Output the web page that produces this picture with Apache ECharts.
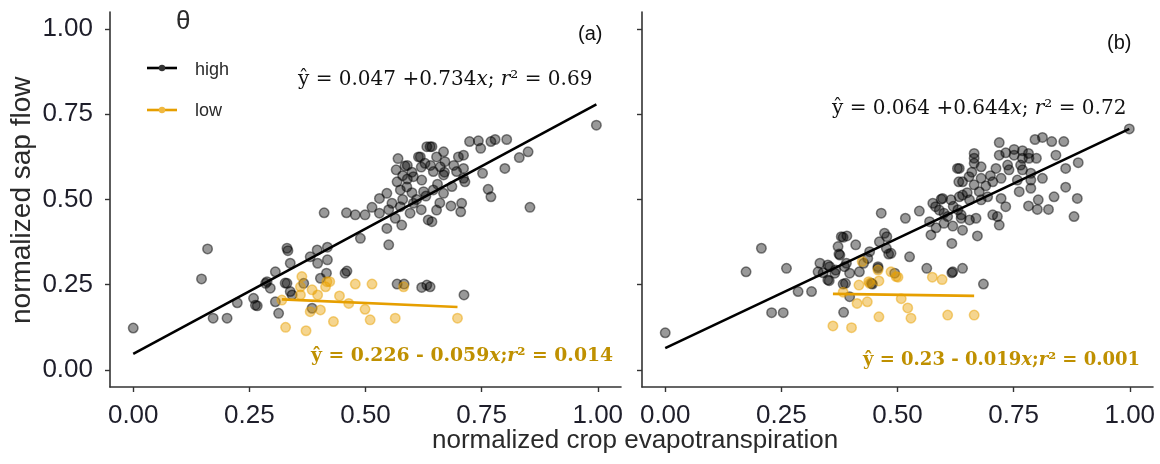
<!DOCTYPE html>
<html><head><meta charset="utf-8">
<script src="https://cdn.jsdelivr.net/npm/echarts@6/dist/echarts.min.js"></script>
<style>html,body{margin:0;padding:0;background:#fff}#c{width:1160px;height:464px}</style>
</head><body><div id="c"></div>
<script>
// ---------- data ----------
const tickValues = [0, 0.25, 0.5, 0.75, 1];
const xTitle = 'normalized crop evapotranspiration';
const yTitle = 'normalized sap flow';
const legendTitle = 'θ';
const groupNames = ['high', 'low'];
const panelLabels = ['(a)', '(b)'];

// panel (a)
const aHigh = [[0.00,0.123],[0.147,0.267],[0.16,0.355],[0.172,0.152],[0.202,0.152],[0.224,0.197],[0.259,0.21],[0.263,0.19],[0.267,0.188],[0.285,0.254],[0.288,0.259],[0.295,0.24],[0.306,0.288],[0.306,0.2],[0.313,0.166],[0.327,0.255],[0.331,0.357],[0.333,0.35],[0.338,0.313],[0.331,0.254],[0.338,0.23],[0.342,0.22],[0.367,0.254],[0.381,0.332],[0.385,0.181],[0.396,0.352],[0.397,0.313],[0.403,0.269],[0.416,0.284],[0.418,0.36],[0.418,0.323],[0.456,0.284],[0.46,0.29],[0.411,0.461],[0.459,0.461],[0.478,0.455],[0.489,0.386],[0.499,0.455],[0.514,0.477],[0.53,0.503],[0.546,0.518],[0.546,0.415],[0.55,0.367],[0.557,0.489],[0.564,0.445],[0.566,0.587],[0.568,0.552],[0.568,0.252],[0.575,0.528],[0.575,0.479],[0.578,0.425],[0.583,0.252],[0.585,0.598],[0.589,0.537],[0.596,0.46],[0.603,0.567],[0.603,0.489],[0.614,0.625],[0.618,0.625],[0.621,0.557],[0.621,0.242],[0.625,0.523],[0.628,0.606],[0.632,0.655],[0.632,0.249],[0.635,0.44],[0.639,0.655],[0.639,0.244],[0.643,0.655],[0.643,0.435],[0.646,0.582],[0.646,0.528],[0.653,0.625],[0.653,0.469],[0.661,0.596],[0.668,0.64],[0.668,0.572],[0.668,0.518],[0.671,0.611],[0.684,0.481],[0.686,0.538],[0.696,0.582],[0.7,0.625],[0.705,0.464],[0.707,0.489],[0.711,0.63],[0.711,0.591],[0.711,0.562],[0.712,0.22],[0.714,0.552],[0.724,0.67],[0.743,0.672],[0.748,0.65],[0.752,0.577],[0.764,0.53],[0.77,0.508],[0.77,0.67],[0.779,0.676],[0.8,0.591],[0.804,0.676],[0.831,0.623],[0.85,0.64],[0.854,0.477],[0.997,0.718],[0.59,0.56],[0.6,0.52],[0.61,0.5],[0.58,0.5],[0.62,0.47],[0.63,0.51],[0.6,0.58],[0.58,0.57],[0.655,0.545],[0.66,0.49],[0.55,0.47],[0.53,0.46],[0.57,0.62],[0.59,0.6],[0.62,0.595],[0.64,0.6],[0.67,0.58],[0.69,0.6]];
const aLow = [[0.32,0.205],[0.328,0.125],[0.36,0.244],[0.36,0.22],[0.363,0.274],[0.372,0.115],[0.381,0.171],[0.385,0.235],[0.397,0.22],[0.403,0.176],[0.414,0.244],[0.417,0.259],[0.423,0.259],[0.431,0.142],[0.444,0.217],[0.464,0.195],[0.478,0.252],[0.499,0.178],[0.51,0.147],[0.514,0.252],[0.564,0.152],[0.582,0.244],[0.698,0.152]];
const aHighFit = [0.047, 0.734];
const aLowFit = [0.226, -0.059];

// panel (b)
const bHigh = [[0.0,0.109],[0.174,0.288],[0.207,0.357],[0.229,0.168],[0.254,0.168],[0.261,0.298],[0.286,0.23],[0.315,0.23],[0.329,0.288],[0.333,0.313],[0.34,0.285],[0.35,0.308],[0.35,0.264],[0.353,0.262],[0.354,0.303],[0.365,0.284],[0.367,0.293],[0.372,0.362],[0.374,0.34],[0.376,0.337],[0.379,0.391],[0.383,0.389],[0.383,0.252],[0.384,0.169],[0.386,0.303],[0.388,0.254],[0.39,0.313],[0.391,0.393],[0.397,0.284],[0.397,0.215],[0.41,0.367],[0.418,0.288],[0.427,0.313],[0.436,0.327],[0.44,0.347],[0.444,0.254],[0.446,0.252],[0.458,0.298],[0.458,0.303],[0.461,0.376],[0.465,0.46],[0.472,0.401],[0.477,0.391],[0.476,0.357],[0.481,0.34],[0.486,0.342],[0.494,0.284],[0.517,0.445],[0.526,0.332],[0.547,0.466],[0.563,0.298],[0.569,0.435],[0.572,0.396],[0.576,0.489],[0.582,0.479],[0.583,0.417],[0.59,0.469],[0.594,0.501],[0.597,0.503],[0.608,0.45],[0.615,0.499],[0.617,0.371],[0.617,0.285],[0.619,0.422],[0.619,0.288],[0.629,0.591],[0.632,0.552],[0.633,0.591],[0.633,0.508],[0.637,0.445],[0.637,0.455],[0.64,0.552],[0.64,0.513],[0.64,0.41],[0.64,0.298],[0.654,0.567],[0.655,0.499],[0.655,0.44],[0.665,0.635],[0.665,0.621],[0.665,0.606],[0.665,0.543],[0.669,0.445],[0.672,0.393],[0.676,0.523],[0.68,0.596],[0.68,0.562],[0.68,0.499],[0.685,0.252],[0.694,0.508],[0.705,0.552],[0.705,0.455],[0.712,0.591],[0.715,0.45],[0.719,0.667],[0.719,0.63],[0.719,0.425],[0.723,0.562],[0.723,0.503],[0.733,0.637],[0.733,0.479],[0.737,0.601],[0.74,0.587],[0.751,0.647],[0.751,0.63],[0.758,0.557],[0.762,0.523],[0.765,0.601],[0.769,0.643],[0.769,0.621],[0.769,0.587],[0.782,0.635],[0.782,0.481],[0.783,0.621],[0.787,0.577],[0.787,0.557],[0.787,0.533],[0.796,0.676],[0.799,0.621],[0.801,0.471],[0.803,0.499],[0.812,0.682],[0.812,0.562],[0.825,0.471],[0.832,0.67],[0.837,0.508],[0.841,0.63],[0.858,0.67],[0.862,0.591],[0.862,0.536],[0.88,0.45],[0.887,0.503],[0.889,0.608],[0.999,0.707],[0.6,0.46],[0.62,0.48],[0.63,0.47],[0.6,0.43],[0.65,0.52],[0.66,0.58],[0.69,0.54],[0.7,0.57]];
const bLow = [[0.361,0.129],[0.383,0.228],[0.401,0.124],[0.413,0.195],[0.417,0.249],[0.424,0.318],[0.435,0.2],[0.438,0.259],[0.44,0.254],[0.458,0.293],[0.46,0.156],[0.46,0.261],[0.486,0.288],[0.497,0.274],[0.501,0.272],[0.508,0.209],[0.522,0.182],[0.529,0.152],[0.575,0.272],[0.596,0.265],[0.608,0.161],[0.665,0.161]];
const bHighFit = [0.064, 0.644];
const bLowFit = [0.23, -0.019];

// ---------- build ----------
const BLACK = '#000000', ORANGE = '#E69F00', GOLD = '#BF9000', AX = '#333333';
function fitLine(pts, fit) {
  const xs = pts.map(p => p[0]);
  const x0 = Math.min(...xs), x1 = Math.max(...xs);
  return [[x0, fit[0] + fit[1] * x0], [x1, fit[0] + fit[1] * x1]];
}
function axisCommon(showLabels, margin) {
  return {
    type: 'value', min: -0.05, max: 1.05,
    splitLine: { show: false },
    axisLine: { show: true, onZero: false, lineStyle: { color: AX, width: 1.6 } },
    axisTick: { show: true, length: 5, customValues: tickValues, lineStyle: { color: AX, width: 1.4 } },
    axisLabel: { show: showLabels, customValues: tickValues, formatter: v => v.toFixed(2),
      fontFamily: 'Liberation Sans, Arial, sans-serif', fontSize: 26, color: '#1e1e2a', margin: margin }
  };
}
const grids = [
  { left: 110, top: 12, width: 511, height: 375 },
  { left: 642, top: 12, width: 511, height: 375 }
];
const xAxes = [Object.assign(axisCommon(true, 16), { gridIndex: 0 }), Object.assign(axisCommon(true, 16), { gridIndex: 1 })];
const yAxes = [Object.assign(axisCommon(true, 17), { gridIndex: 0 }), Object.assign(axisCommon(false, 17), { gridIndex: 1 })];

function scatter(idx, data, color, name) {
  return { type: 'scatter', name, xAxisIndex: idx, yAxisIndex: idx, data, symbolSize: 9.5,
    itemStyle: { color: color === BLACK ? 'rgba(0,0,0,0.5)' : 'rgba(232,160,0,0.55)',
      borderColor: color === BLACK ? 'rgba(0,0,0,0.6)' : 'rgba(232,160,0,0.6)', borderWidth: 1.5 },
    z: 2, silent: true };
}
function line(idx, data, color) {
  return { type: 'line', xAxisIndex: idx, yAxisIndex: idx, data, showSymbol: false,
    lineStyle: { color, width: 2.6 }, z: 3, silent: true };
}
const series = [
  scatter(0, aHigh, BLACK, groupNames[0]), scatter(0, aLow, ORANGE, groupNames[1]),
  line(0, fitLine(aHigh, aHighFit), BLACK), line(0, fitLine(aLow, aLowFit), ORANGE),
  scatter(1, bHigh, BLACK, groupNames[0]), scatter(1, bLow, ORANGE, groupNames[1]),
  line(1, fitLine(bHigh, bHighFit), BLACK), line(1, fitLine(bLow, bLowFit), ORANGE)
];

const SERIF = 'DejaVu Serif, serif';
function eqText(x, y, fit, r2, r2d, dA, dB, bold, color, size) {
  const fw = bold ? 'bold' : 'normal';
  const sign = fit[1] < 0 ? ' - ' : ' +';
  const base = { fontFamily: SERIF, fontSize: size, fontWeight: fw, fill: color };
  return { type: 'text', left: x, top: y, style: {
    text: '{n|ŷ = ' + fit[0].toFixed(dA) + sign + Math.abs(fit[1]).toFixed(dB) + '}{i|x}{n|;' + (bold ? '' : ' ') + '}{i|r}{n|² = ' + r2.toFixed(r2d) + '}',
    rich: { n: Object.assign({}, base), i: Object.assign({ fontStyle: 'italic' }, base) },
    fill: color, font: fw + ' ' + size + 'px ' + SERIF }, z: 10 };
}
const SANS = 'Liberation Sans, Arial, sans-serif';
const graphics = [
  { type: 'text', left: 432, top: 428, style: { text: xTitle, font: '26px ' + SANS, fill: '#2a2a2a' }, z: 10 },
  { type: 'text', x: 8, y: 324, rotation: Math.PI / 2, style: { text: yTitle, font: '28px ' + SANS, fill: '#2a2a2a' }, z: 10 },
  { type: 'text', left: 176, top: 9, style: { text: legendTitle, font: '26px ' + SANS, fill: '#2a2a2a' }, z: 10 },
  { type: 'line', shape: { x1: 147, y1: 68, x2: 177, y2: 68 }, style: { stroke: BLACK, lineWidth: 2.6 }, z: 10 },
  { type: 'circle', shape: { cx: 162, cy: 68, r: 3.2 }, style: { fill: '#333' }, z: 11 },
  { type: 'text', left: 195, top: 61, style: { text: groupNames[0], font: '18px ' + SANS, fill: '#2a2a2a' }, z: 10 },
  { type: 'line', shape: { x1: 147, y1: 110, x2: 177, y2: 110 }, style: { stroke: ORANGE, lineWidth: 2.6 }, z: 10 },
  { type: 'circle', shape: { cx: 162, cy: 110, r: 3.2 }, style: { fill: '#F0B840' }, z: 11 },
  { type: 'text', left: 195, top: 102, style: { text: groupNames[1], font: '18px ' + SANS, fill: '#2a2a2a' }, z: 10 },
  { type: 'text', left: 578, top: 24, style: { text: panelLabels[0], font: '20px ' + SANS, fill: '#111' }, z: 10 },
  { type: 'text', left: 1107, top: 33, style: { text: panelLabels[1], font: '20px ' + SANS, fill: '#111' }, z: 10 },
  eqText(298, 70, aHighFit, 0.69, 2, 3, 3, false, '#111', 20),
  eqText(832, 99, bHighFit, 0.72, 2, 3, 3, false, '#111', 20),
  eqText(311, 347, aLowFit, 0.014, 3, 3, 3, true, GOLD, 18.8),
  eqText(863, 351, bLowFit, 0.001, 3, 2, 3, true, GOLD, 18)
];

const chart = echarts.init(document.getElementById('c'), null, { renderer: 'canvas' });
chart.setOption({
  animation: false, backgroundColor: '#fff',
  grid: grids, xAxis: xAxes, yAxis: yAxes, series, graphic: graphics
});
</script></body></html>
